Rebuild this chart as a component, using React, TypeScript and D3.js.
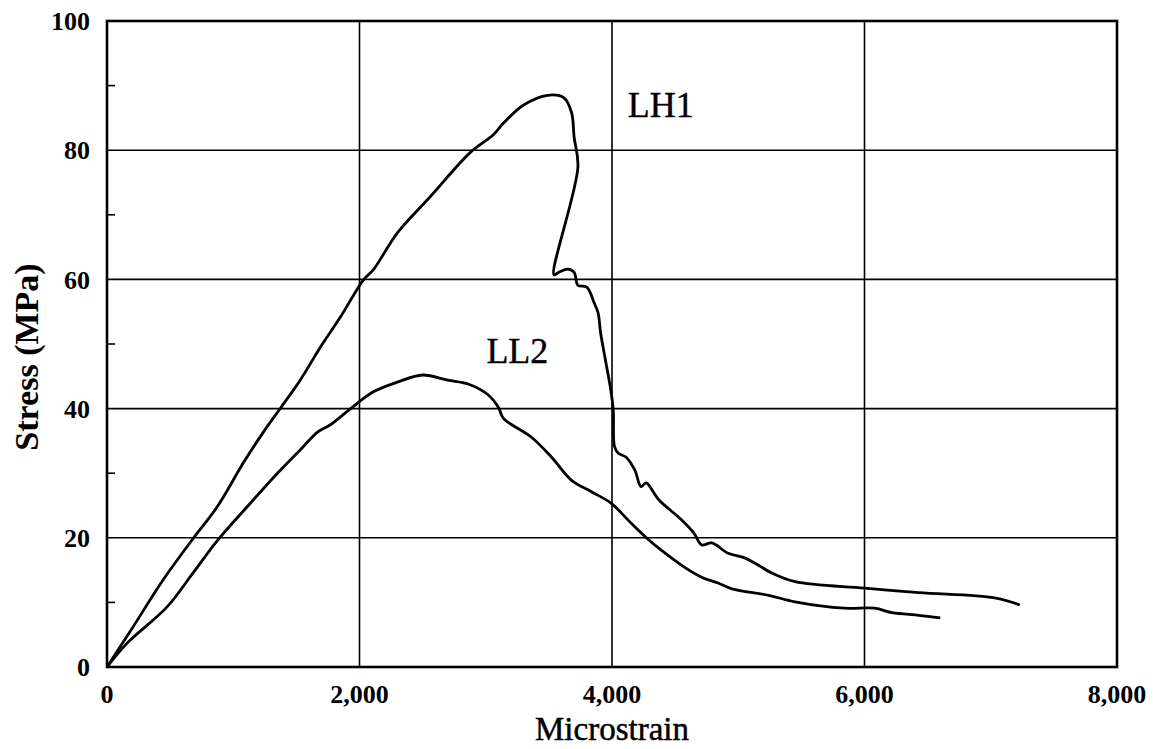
import React from 'react';
import * as d3 from 'd3';

// strain (microstrain) and stress (MPa)
const lh1Strain = [0, 206, 445, 675, 873, 1080, 1240, 1375, 1530, 1690, 1850, 2030, 2110, 2300, 2560, 2880, 3060, 3140, 3300, 3490, 3620, 3680, 3700, 3730, 3540, 3580, 3650, 3700, 3730, 3800, 3860, 3890, 3910, 3950, 3990, 4010, 4020, 4050, 4110, 4180, 4230, 4270, 4370, 4550, 4650, 4710, 4790, 4920, 5050, 5130, 5260, 5450, 6000, 6430, 7030, 7230];
const lh1Stress = [0, 6.2, 13.5, 19.7, 24.8, 31.6, 36.4, 40.1, 44.4, 49.5, 54.2, 59.9, 61.5, 67.2, 72.8, 79.7, 82.4, 84.2, 87.0, 88.5, 88.1, 85.8, 82.0, 77.4, 60.7, 61.1, 61.6, 61.1, 59.1, 58.8, 56.3, 54.8, 51.7, 47.3, 42.9, 39.8, 34.1, 33.1, 32.5, 30.5, 27.9, 28.5, 25.9, 22.8, 20.7, 18.9, 19.2, 17.6, 16.9, 16.1, 14.6, 13.2, 12.2, 11.5, 10.7, 9.6];

const ll2Strain = [0, 160, 476, 683, 880, 1110, 1350, 1530, 1670, 1770, 1930, 2110, 2300, 2500, 2700, 2860, 3020, 3100, 3140, 3360, 3520, 3680, 3840, 3990, 4150, 4290, 4370, 4570, 4710, 4840, 4950, 5240, 5450, 5840, 6080, 6220, 6430, 6600];
const ll2Stress = [0, 3.7, 9.3, 14.6, 19.7, 24.8, 30.0, 33.6, 36.4, 37.5, 40.0, 42.6, 44.1, 45.2, 44.4, 43.8, 42.1, 40.2, 38.5, 35.6, 32.5, 28.9, 27.1, 25.4, 22.3, 19.7, 18.4, 15.5, 13.9, 13.0, 12.1, 11.1, 10.1, 9.1, 9.1, 8.4, 8.0, 7.6];

const xTicks = [0, 2000, 4000, 6000, 8000];
const yTicks = [0, 20, 40, 60, 80, 100];
const yMinorTicks = [10, 30, 50, 70, 90];

const curveLabels = ['LH1', 'LL2'];
const labelStrain = [4125, 3005];
const labelStress = [85.1, 47];

const W = 1153;
const H = 749;
const margin = { top: 21, right: 36, bottom: 82, left: 107 };
const FONT = '"Liberation Serif", "Times New Roman", serif';

export default function App() {
  const x = d3.scaleLinear().domain([0, 8000]).range([margin.left, W - margin.right]);
  const y = d3.scaleLinear().domain([0, 100]).range([H - margin.bottom, margin.top]);
  const fmt = d3.format(',');

  const line = d3
    .line<[number, number]>()
    .x((d) => x(d[0]))
    .y((d) => y(d[1]))
    .curve(d3.curveCatmullRom.alpha(0.5));

  const lh1 = lh1Strain.map((s, i) => [s, lh1Stress[i]] as [number, number]);
  const ll2 = ll2Strain.map((s, i) => [s, ll2Stress[i]] as [number, number]);

  const [x0, x1] = x.range();
  const [y0, y1] = y.range();

  return (
    <svg width={W} height={H} style={{ position: 'absolute', left: 0, top: 0, background: '#fff' }} fontFamily={FONT}>
      {/* grid */}
      {xTicks.slice(1, -1).map((t) => (
        <line key={'gx' + t} x1={x(t)} x2={x(t)} y1={y0} y2={y1} stroke="#000" strokeWidth={1.6} />
      ))}
      {yTicks.slice(1, -1).map((t) => (
        <line key={'gy' + t} x1={x0} x2={x1} y1={y(t)} y2={y(t)} stroke="#000" strokeWidth={1.6} />
      ))}
      {yMinorTicks.map((t) => (
        <line key={'my' + t} x1={x0} x2={x0 + 8} y1={y(t)} y2={y(t)} stroke="#000" strokeWidth={1.6} />
      ))}

      {/* frame */}
      <rect x={x0} y={y1} width={x1 - x0} height={y0 - y1} fill="none" stroke="#000" strokeWidth={2.6} />

      {/* curves */}
      <path d={line(lh1) ?? ''} fill="none" stroke="#000" strokeWidth={2.8} strokeLinejoin="round" />
      <path d={line(ll2) ?? ''} fill="none" stroke="#000" strokeWidth={2.8} strokeLinejoin="round" />

      {curveLabels.map((c, i) => (
        <text key={c} x={x(labelStrain[i])} y={y(labelStress[i])} fontSize={36} stroke="#000" strokeWidth={0.4}>
          {c}
        </text>
      ))}

      {/* tick labels */}
      {xTicks.map((t) => (
        <text key={'tx' + t} x={x(t)} y={y0 + 36} fontSize={26} fontWeight="bold" textAnchor="middle">
          {fmt(t)}
        </text>
      ))}
      {yTicks.map((t) => (
        <text key={'ty' + t} x={x0 - 17} y={y(t)} dy="0.35em" fontSize={26} fontWeight="bold" textAnchor="end">
          {t}
        </text>
      ))}

      {/* axis titles */}
      <text x={(x0 + x1) / 2} y={H - 9} fontSize={33} textAnchor="middle" stroke="#000" strokeWidth={0.5}>
        Microstrain
      </text>
      <text transform={`translate(38, 357) rotate(-90)`} fontSize={34} fontWeight="bold" textAnchor="middle">
        Stress (MPa)
      </text>
    </svg>
  );
}
